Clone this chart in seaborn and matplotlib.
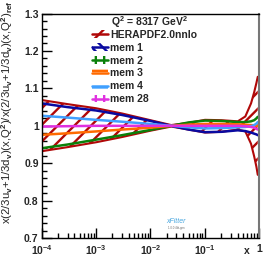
import numpy as np
import pandas as pd
import matplotlib
matplotlib.use("Agg")
import matplotlib.pyplot as plt
import seaborn as sns
from matplotlib.patches import Patch
from matplotlib.lines import Line2D
from matplotlib.ticker import FixedLocator, FixedFormatter, LogLocator, MultipleLocator, NullFormatter

# values
x_vals = [1e-4, 3e-4, 1e-3, 3e-3, 0.01, 0.024, 0.05, 0.1, 0.2, 0.4, 0.55, 0.7, 0.8, 0.88, 0.93]
band_up = [1.069, 1.058, 1.047, 1.033, 1.015, 1.002, 1.008, 1.016, 1.015, 1.012, 1.025, 1.060, 1.090, 1.115, 1.131]
band_lo = [0.932, 0.943, 0.956, 0.970, 0.987, 0.998, 0.990, 0.982, 0.984, 0.990, 0.985, 0.952, 0.918, 0.890, 0.869]
mem1 = [1.060, 1.050, 1.041, 1.029, 1.013, 1.000, 0.990, 0.983, 0.984, 0.988, 0.986, 0.982, 0.979, 0.977, 0.975]
mem2 = [0.940, 0.950, 0.963, 0.975, 0.989, 1.000, 1.009, 1.014, 1.013, 1.010, 1.010, 1.012, 1.015, 1.020, 1.024]
mem3 = [0.976, 0.980, 0.985, 0.990, 0.995, 1.000, 1.003, 1.005, 1.005, 1.004, 1.003, 1.002, 1.001, 1.000, 1.000]
mem4 = [1.027, 1.022, 1.016, 1.011, 1.005, 1.000, 0.996, 0.993, 0.994, 0.996, 0.997, 0.999, 1.002, 1.006, 1.010]
mem28 = [0.998, 0.999, 1.000, 1.000, 1.000, 1.000, 1.000, 1.000, 1.000, 1.000, 0.999, 0.997, 0.995, 0.992, 0.990]

labels = ["HERAPDF2.0nnlo", "mem 1", "mem 2", "mem 3", "mem 4", "mem 28"]
colors = ["#b00808", "#0a0aa0", "#0a800a", "#ff6a00", "#40a0ff", "#e030e0"]
hatches = ["//", "\\\\\\", "||", "--", "--", "||"]
x_ticks = [1e-4, 1e-3, 1e-2, 1e-1, 1]
x_ticklabels = ["$10^{-4}$", "$10^{-3}$", "$10^{-2}$", "$10^{-1}$", "1"]
y_ticks = [0.7, 0.8, 0.9, 1.0, 1.1, 1.2, 1.3]
y_ticklabels = ["0.7", "0.8", "0.9", "1", "1.1", "1.2", "1.3"]

sns.set_theme(style="ticks")
plt.rcParams["font.family"] = ["Liberation Sans", "DejaVu Sans"]
plt.rcParams["font.weight"] = "bold"
plt.rcParams["mathtext.fontset"] = "custom"
plt.rcParams["mathtext.rm"] = "Liberation Sans:bold"
plt.rcParams["mathtext.it"] = "Liberation Sans:bold"
plt.rcParams["mathtext.bf"] = "Liberation Sans:bold"
plt.rcParams["hatch.linewidth"] = 1.7
plt.rcParams["hatch.color"] = colors[0]

members = pd.DataFrame({
    "x": x_vals * 5,
    "y": mem1 + mem2 + mem3 + mem4 + mem28,
    "member": sum([[lab] * len(x_vals) for lab in labels[1:]], []),
})

fig = plt.figure(figsize=(2.74, 2.66), dpi=100)
ax = fig.add_axes([0.1515, 0.105, 0.7955, 0.844])

# hatched error band, drawn as one polygon so the hatch takes the edge colour
band_x = np.concatenate([x_vals, x_vals[::-1]])
band_y = np.concatenate([band_up, band_lo[::-1]])
ax.fill(band_x, band_y, facecolor="none", edgecolor=colors[0], hatch=hatches[0], linewidth=0)
ax.plot(x_vals, band_up, color=colors[0], lw=1.5)
ax.plot(x_vals, band_lo, color=colors[0], lw=1.5)

sns.lineplot(data=members, x="x", y="y", hue="member", palette=colors[1:],
             hue_order=labels[1:], lw=1.8, ax=ax, legend=False, sort=False)

ax.set_xscale("log")
ax.set_xlim(1e-4, 1)
ax.set_ylim(0.7, 1.3)
ax.set_xlabel("")
ax.set_ylabel("")

ax.xaxis.set_major_locator(FixedLocator(x_ticks))
ax.xaxis.set_major_formatter(FixedFormatter(x_ticklabels))
ax.xaxis.set_minor_locator(LogLocator(base=10, subs=np.arange(2, 10), numticks=20))
ax.xaxis.set_minor_formatter(NullFormatter())
ax.yaxis.set_major_locator(FixedLocator(y_ticks))
ax.yaxis.set_major_formatter(FixedFormatter(y_ticklabels))
ax.yaxis.set_minor_locator(MultipleLocator(0.02))

ax.tick_params(which="both", direction="in", top=False, right=False, width=1, color="black")
ax.tick_params(which="major", length=7)
ax.tick_params(which="minor", length=3.5)
ax.tick_params(axis="y", labelsize=7.5, pad=2)
ax.tick_params(axis="x", labelsize=7.5, pad=4)
for side in ["left", "bottom", "top"]:
    ax.spines[side].set_color("black")
    ax.spines[side].set_linewidth(1)
ax.spines["right"].set_color("#777777")
ax.spines["right"].set_linewidth(1.5)

handles = []
for c, h in zip(colors, hatches):
    handles.append((Patch(facecolor="none", edgecolor=c, hatch=h, linewidth=0),
                    Line2D([], [], color=c, lw=1.8)))
ax.legend(handles, labels, loc="upper left", bbox_to_anchor=(0.232, 0.928),
          frameon=False, fontsize=7.5, handlelength=1.55, handletextpad=0.15,
          labelspacing=0.28, borderpad=0, borderaxespad=0)

ax.text(0.319, 0.96, "Q$^2$ = 8317 GeV$^2$", transform=ax.transAxes,
        fontsize=7.5, fontweight="bold", va="center", ha="left")
ax.text(0.943, -0.058, "x", transform=ax.transAxes, fontsize=7.5,
        fontweight="bold", ha="center", va="center")
ax.text(0.615, 0.075, "xFitter", transform=ax.transAxes, fontsize=5,
        style="italic", color="#4aa8e0", ha="center", va="center", fontweight="normal")
ax.text(0.62, 0.045, "1.0.0 4th-gen", transform=ax.transAxes, fontsize=2,
        color="#666666", ha="center", va="center", fontweight="normal")

fig.text(0.026, 0.998,
         "x(2/3u$_v$+1/3d$_v$)(x,Q$^2$)/x(2/3u$_v$+1/3d$_v$)(x,Q$^2$)$_{ref}$",
         rotation=90, ha="center", va="top", fontsize=8.2, fontweight="normal")

fig.savefig("out.png", dpi=100)
